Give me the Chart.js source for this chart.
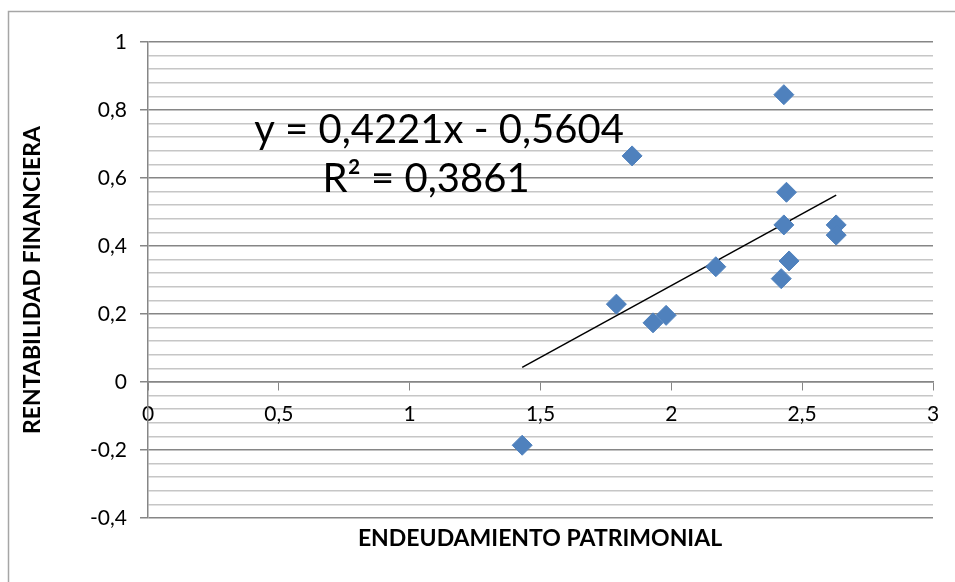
<!DOCTYPE html>
<html>
<head>
<meta charset="utf-8">
<script src="https://cdn.jsdelivr.net/npm/chart.js@4/dist/chart.umd.min.js"></script>
<style>
  html, body { margin: 0; padding: 0; background: #fff; }
  #wrap { position: relative; width: 955px; height: 582px; }
</style>
</head>
<body>
<div id="wrap"><canvas id="chart" width="955" height="582"></canvas></div>
<script>
// Data
const xValues = [2.43, 1.85, 2.44, 2.43, 2.63, 2.63, 2.45, 2.42, 2.17, 1.79, 1.98, 1.93, 1.43];
const yValues = [0.845, 0.665, 0.558, 0.462, 0.462, 0.432, 0.356, 0.304, 0.339, 0.229, 0.196, 0.174, -0.186];

// Trendline as printed on the chart
const slope = 0.4221;
const intercept = -0.5604;
const equationText = 'y = 0,4221x - 0,5604';
const r2Text = 'R² = 0,3861';

const xTitle = 'ENDEUDAMIENTO PATRIMONIAL';
const yTitle = 'RENTABILIDAD FINANCIERA';

const FONT = 'Lato, "Liberation Sans", sans-serif';
const MAJOR = '#868686';
const MINOR = '#c6c6c6';

const points = xValues.map((x, i) => ({ x: x, y: yValues[i] }));
const xMin = Math.min(...xValues);
const xMax = Math.max(...xValues);
const trend = [
    { x: xMin, y: slope * xMin + intercept },
    { x: xMax, y: slope * xMax + intercept }
];

const isMajor = v => Math.abs(v * 5 - Math.round(v * 5)) < 1e-6;
const fmt = v => String(Math.round(v * 10) / 10).replace('.', ',');

// Frame, trendline label and x title
const extras = {
    id: 'extras',
    beforeDraw(chart) {
        const ctx = chart.ctx;
        ctx.save();
        ctx.strokeStyle = '#a6a6a6';
        ctx.lineWidth = 1.5;
        ctx.beginPath();
        ctx.moveTo(8.5, 582);
        ctx.lineTo(8.5, 11.5);
        ctx.lineTo(955, 11.5);
        ctx.stroke();
        ctx.restore();
    },
    afterDraw(chart) {
        const ctx = chart.ctx;
        ctx.save();
        ctx.fillStyle = '#000';
        ctx.textAlign = 'center';
        ctx.textBaseline = 'alphabetic';
        ctx.font = '40px ' + FONT;
        ctx.fillText(equationText, 439, 143);
        ctx.fillText(r2Text, 426, 192);
        ctx.font = 'bold 23px ' + FONT;
        ctx.textBaseline = 'middle';
        ctx.fillText(xTitle, 540, 539);
        ctx.restore();
    }
};

new Chart(document.getElementById('chart'), {
    type: 'scatter',
    data: {
        datasets: [{
            label: 'Datos',
            data: points,
            pointStyle: 'rectRot',
            pointRadius: 10,
            pointHoverRadius: 10,
            backgroundColor: '#4f81bd',
            borderColor: '#4f81bd',
            borderWidth: 1
        }, {
            label: 'Tendencia',
            data: trend,
            showLine: true,
            pointRadius: 0,
            borderColor: '#000',
            borderWidth: 1.5
        }]
    },
    options: {
        responsive: false,
        animation: false,
        events: [],
        layout: { padding: { left: 8, top: 42, right: 22, bottom: 64 } },
        plugins: {
            legend: { display: false },
            tooltip: { enabled: false }
        },
        scales: {
            x: {
                type: 'linear',
                position: { y: 0 },
                min: 0,
                max: 3,
                ticks: {
                    stepSize: 0.5,
                    padding: 12,
                    color: '#000',
                    font: { family: FONT, size: 21 },
                    maxRotation: 0,
                    callback: v => fmt(v)
                },
                grid: {
                    drawOnChartArea: false,
                    drawTicks: true,
                    tickLength: 8,
                    color: MAJOR,
                    lineWidth: 1
                },
                border: { display: true, color: MAJOR, width: 1.5 }
            },
            y: {
                type: 'linear',
                min: -0.4,
                max: 1,
                afterFit(scale) { scale.width = 140; },
                ticks: {
                    stepSize: 0.04,
                    autoSkip: false,
                    padding: 13,
                    color: '#000',
                    font: { family: FONT, size: 21 },
                    callback: v => isMajor(v) ? fmt(v) : ''
                },
                grid: {
                    color: ctx => isMajor(ctx.tick.value) ? MAJOR : MINOR,
                    lineWidth: 1.5,
                    tickColor: ctx => isMajor(ctx.tick.value) ? MAJOR : 'rgba(0,0,0,0)',
                    tickLength: 8
                },
                border: { display: true, color: MAJOR, width: 1.5 },
                title: {
                    display: true,
                    text: yTitle,
                    color: '#000',
                    font: { family: FONT, size: 23, weight: 'bold' },
                    padding: { top: 11, bottom: 0 }
                }
            }
        }
    },
    plugins: [extras]
});
</script>
</body>
</html>
